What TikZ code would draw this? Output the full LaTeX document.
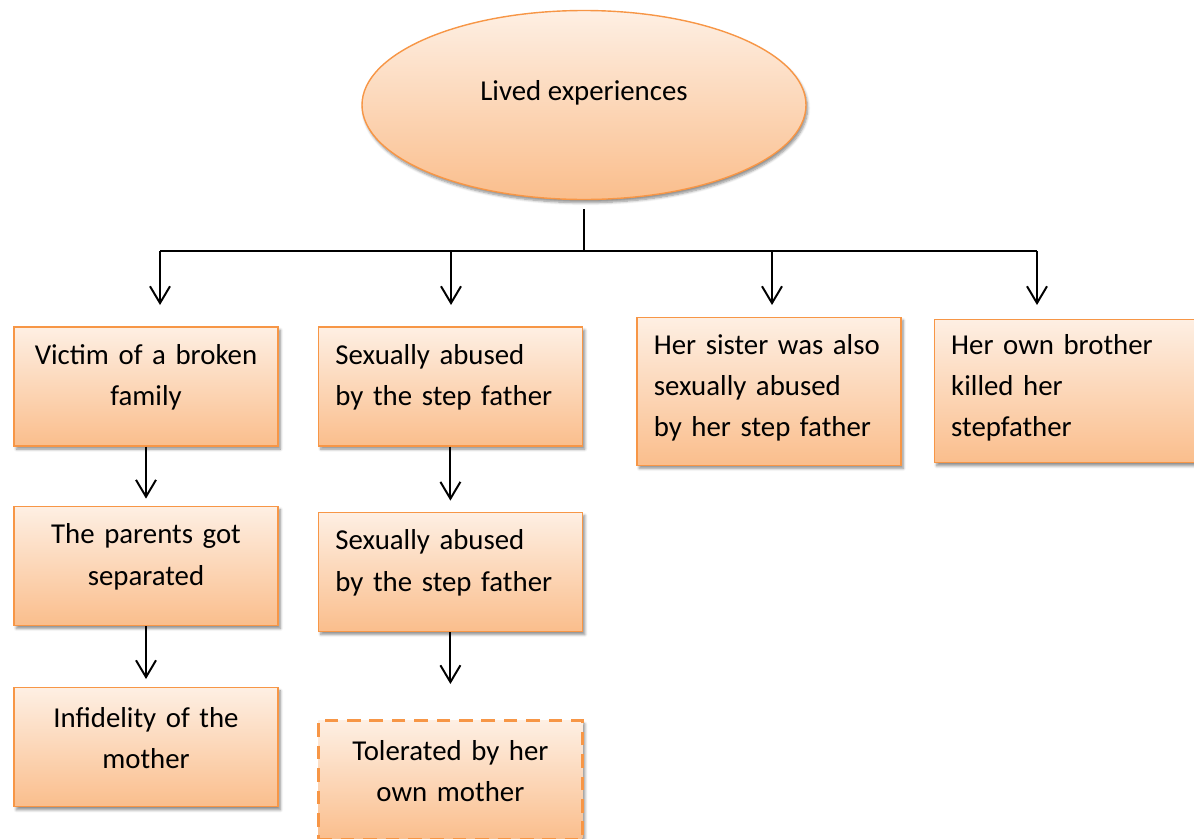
\documentclass[tikz,border=0pt]{standalone}
\usepackage{fontspec}
\setmainfont{Carlito}
\usepackage{tikz}
\usetikzlibrary{arrows.meta, positioning, shapes.geometric, shadows.blur}
\definecolor{accent}{HTML}{F79646}
\colorlet{boxtop}{accent!15}
\colorlet{boxbot}{accent!62}
\tikzset{
  card/.style={
    rectangle, draw=accent, line width=1pt,
    top color=boxtop, bottom color=boxbot,
    minimum width=6.6cm, minimum height=2.975cm, text width=5.75cm,
    align=center, font=\fontsize{20.5pt}{29.2pt}\selectfont,
    blur shadow={shadow xshift=0.06cm, shadow yshift=-0.08cm, shadow opacity=45, shadow blur steps=6}
  },
  leftcard/.style={
    card, align=left
  },
  lift/.style={
    execute at end node={\par\vspace{#1}}
  },
  lift/.default=0.45cm,
  bubble/.style={
    ellipse, draw=accent, line width=1pt,
    top color=boxtop, bottom color=boxbot,
    minimum width=11.1cm, minimum height=4.725cm, text depth=0.72cm,
    font=\fontsize{20.5pt}{29.2pt}\selectfont,
    blur shadow={shadow xshift=0.04cm, shadow yshift=-0.08cm, shadow opacity=45, shadow blur steps=6}
  }
}

\begin{document}
\begin{tikzpicture}[
  node distance=1.5cm and 1cm,
  wire/.style={line width=1.4pt, black},
  link/.style={-{Straight Barb[length=0.42cm, width=0.5cm]}, line width=1.4pt, black}
]
\useasboundingbox (0,0) rectangle (29.85,-20.95);

\node[bubble] (lived) at (14.6,-2.625) {Lived experiences};

\node[card, lift] (victim) at (3.65,-9.66) {Victim of a broken\\ family};
\node[leftcard, lift, right=0.975cm of victim] (abused) {Sexually abused\\ by the step father};
\node[leftcard, lift=0.18cm, minimum height=3.7cm, right=1.325cm of abused, yshift=-0.12cm] (sister) {Her sister was also\\ sexually abused\\ by her step father};
\node[leftcard, lift=0.15cm, minimum height=3.575cm, right=0.8cm of sister] (brother) {Her own brother\\ killed her\\ stepfather};

\node[card, lift, below=1.475cm of victim] (separated) {The parents got\\ separated};
\node[card, lift, below=1.525cm of separated] (infidelity) {Infidelity of the\\ mother};

\node[leftcard, lift, below=1.625cm of abused] (abusedagain) {Sexually abused\\ by the step father};
\node[card, lift, dashed, dash pattern=on 0.34cm off 0.22cm, line width=2.4pt, below=2.175cm of abusedagain] (tolerated) {Tolerated by her\\ own mother};

\coordinate (hub) at (lived.south |- 0,-6.275);
\draw[wire, shorten <=0.225cm] (lived) -- (hub);

\coordinate (busleft) at (4.0,-6.275);
\coordinate (busright) at (25.925,-6.275);
\draw[wire] (busleft) -- (busright);

\foreach \n/\x in {victim/4.0, abused/11.275, sister/19.3, brother/25.925} {
  \coordinate (top\n) at (\x,-6.275);
  \coordinate (tip\n) at (\x,-7.625);
  \draw[link] (top\n) -- (tip\n);
}

\draw[link, shorten >=0.175cm] (victim) -- (separated);
\draw[link, shorten >=0.2cm] (separated) -- (infidelity);
\draw[link, shorten >=0.275cm] (abused) -- (abusedagain);
\draw[link, shorten >=0.875cm] (abusedagain) -- (tolerated);

\end{tikzpicture}
\end{document}
